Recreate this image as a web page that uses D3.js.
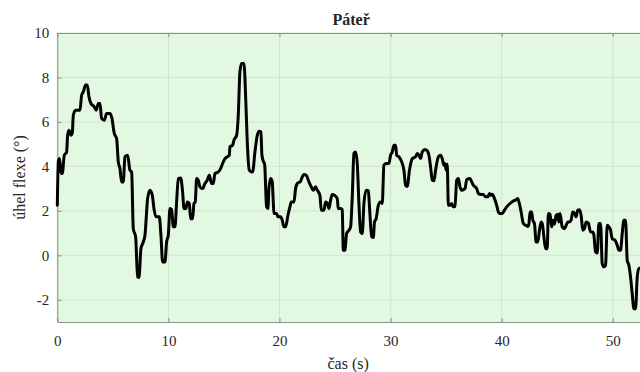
<!DOCTYPE html>
<html>
<head>
<meta charset="utf-8">
<script src="https://cdn.jsdelivr.net/npm/d3@7"></script>
<style>
  body { margin: 0; background: #fff; overflow: hidden; }
  svg { display: block; }
</style>
</head>
<body>
<div id="chart"></div>
<script>
const times = [0.0, 0.1, 0.2, 0.35, 0.45, 0.63, 0.84, 0.93, 1.05, 1.23, 1.35, 1.44, 1.65, 2.04, 2.19, 2.34, 2.55, 2.7, 2.85, 3.03,
  3.33, 3.51, 3.69, 3.84, 3.99, 4.23, 4.44, 4.74, 4.9, 5.13, 5.34, 5.49, 5.64, 5.79, 5.94, 6.09, 6.33, 6.54, 6.69, 6.84,
  7.05, 7.23, 7.35, 7.53, 7.74, 7.89, 8.13, 8.34, 8.55, 8.7, 8.88, 9.18, 9.33, 9.48, 9.69, 9.84, 9.99, 10.14, 10.29, 10.44,
  10.59, 10.74, 10.89, 11.1, 11.28, 11.4, 11.58, 11.7, 11.88, 12.0, 12.18, 12.3, 12.42, 12.54, 12.69, 12.84, 13.08, 13.29, 13.5, 13.68,
  13.89, 14.04, 14.19, 14.49, 14.7, 14.88, 15.09, 15.3, 15.48, 15.54, 15.78, 15.9, 16.14, 16.29, 16.44, 16.59, 16.8, 16.98, 17.1, 17.28,
  17.49, 17.58, 17.79, 18.0, 18.18, 18.33, 18.42, 18.57, 18.66, 18.84, 18.96, 19.05, 19.2, 19.35, 19.44, 19.5, 19.74, 19.86, 20.1, 20.25,
  20.4, 20.55, 20.76, 20.94, 21.06, 21.3, 21.45, 21.6, 21.9, 22.05, 22.2, 22.41, 22.65, 22.86, 23.04, 23.25, 23.4, 23.64, 23.76, 24.0,
  24.15, 24.3, 24.45, 24.6, 24.75, 24.96, 25.2, 25.29, 25.5, 25.65, 25.74, 25.89, 26.04, 26.25, 26.4, 26.55, 26.7, 26.85, 27.0, 27.15,
  27.3, 27.45, 27.6, 27.8, 28.0, 28.1, 28.3, 28.45, 28.55, 28.7, 28.9, 29.1, 29.25, 29.4, 29.6, 29.85, 30.0, 30.15, 30.3, 30.45,
  30.55, 30.75, 31.0, 31.2, 31.35, 31.5, 31.7, 31.95, 32.25, 32.4, 32.55, 32.7, 32.85, 33.1, 33.3, 33.45, 33.6, 33.75, 33.9, 34.05,
  34.3, 34.5, 34.65, 34.8, 34.9, 35.0, 35.1, 35.2, 35.35, 35.5, 35.65, 35.8, 35.95, 36.1, 36.25, 36.4, 36.7, 36.85, 37.15, 37.3,
  37.45, 37.75, 37.9, 38.15, 38.35, 38.55, 38.75, 38.9, 39.05, 39.15, 39.35, 39.55, 39.7, 39.85, 40.05, 40.25, 40.45, 40.75, 41.05, 41.25,
  41.45, 41.55, 41.75, 41.95, 42.15, 42.35, 42.45, 42.55, 42.7, 42.8, 42.95, 43.1, 43.25, 43.4, 43.55, 43.65, 43.8, 43.95, 44.1, 44.2,
  44.35, 44.5, 44.6, 44.75, 44.9, 45.05, 45.15, 45.25, 45.45, 45.65, 45.8, 45.95, 46.1, 46.25, 46.4, 46.55, 46.7, 46.85, 47.0, 47.15,
  47.3, 47.45, 47.6, 47.8, 48.0, 48.2, 48.3, 48.45, 48.6, 48.75, 48.9, 49.05, 49.2, 49.35, 49.5, 49.65, 49.8, 49.95, 50.2, 50.4,
  50.55, 50.7, 50.85, 51.0, 51.15, 51.3, 51.45, 51.6, 51.75, 51.9, 52.05, 52.2, 52.35, 52.6];

const angles = [2.25, 4.28, 4.35, 3.68, 3.68, 4.5, 4.65, 5.4, 5.63, 5.4, 5.5, 6.3, 6.53, 6.53, 7.2, 7.35, 7.66, 7.66, 7.13, 6.83,
  6.68, 6.53, 6.83, 6.83, 6.16, 6.08, 6.38, 6.38, 6.2, 5.48, 5.25, 4.2, 3.9, 3.3, 3.3, 4.43, 4.5, 3.83, 3.75, 1.2,
  0.83, -0.98, -1.0, 0.3, 0.6, 0.9, 2.55, 2.93, 2.7, 2.1, 1.73, 1.73, 0.9, -0.3, -0.3, 0.6, 0.9, 2.1, 2.05, 1.28,
  1.28, 2.4, 3.45, 3.48, 2.85, 2.1, 2.1, 2.4, 2.33, 1.65, 1.65, 2.33, 2.4, 3.45, 3.38, 3.08, 3.0, 3.23, 3.38, 3.6,
  3.23, 3.23, 3.68, 3.75, 3.9, 4.13, 4.35, 4.43, 4.5, 4.88, 4.95, 5.18, 5.4, 6.3, 8.26, 8.63, 8.63, 6.76, 5.1, 3.83,
  3.75, 3.75, 4.65, 5.4, 5.58, 5.55, 4.5, 4.2, 4.1, 2.18, 2.1, 3.0, 3.45, 3.3, 2.4, 1.88, 1.88, 1.73, 1.73, 1.58,
  1.28, 1.28, 1.8, 2.18, 2.4, 2.4, 3.0, 3.23, 3.33, 3.53, 3.63, 3.6, 3.3, 3.08, 2.93, 3.08, 2.93, 2.7, 2.03, 2.03,
  2.4, 2.35, 2.1, 2.48, 2.73, 2.7, 2.55, 2.1, 2.1, 2.05, 0.23, 0.23, 0.98, 1.13, 1.28, 2.63, 4.58, 4.65, 4.13, 2.33,
  1.05, 0.98, 2.33, 2.93, 2.9, 2.18, 0.83, 0.8, 1.5, 1.65, 2.25, 2.4, 2.33, 4.05, 4.13, 4.13, 4.5, 4.65, 4.95, 4.95,
  4.5, 4.43, 4.2, 3.83, 3.15, 3.1, 3.83, 4.35, 4.43, 4.58, 4.5, 4.35, 4.65, 4.76, 4.7, 4.5, 3.98, 3.38, 3.35, 3.83,
  4.43, 4.5, 4.35, 4.05, 4.13, 3.83, 4.1, 2.25, 2.25, 2.33, 2.18, 2.2, 3.38, 3.45, 3.08, 2.93, 3.0, 3.41, 3.45, 3.3,
  3.15, 3.0, 2.78, 2.73, 2.73, 2.63, 2.63, 2.78, 2.7, 2.75, 2.55, 2.25, 1.95, 1.88, 1.88, 2.03, 2.18, 2.33, 2.45, 2.48,
  2.55, 2.4, 1.95, 1.43, 1.35, 1.3, 1.4, 1.95, 1.95, 1.58, 1.43, 0.6, 0.6, 1.13, 1.5, 1.43, 0.83, 0.3, 0.3, 1.88,
  1.85, 1.28, 1.58, 1.4, 1.8, 1.85, 1.5, 1.88, 1.28, 1.2, 1.35, 1.5, 1.5, 1.58, 1.95, 1.9, 1.73, 2.03, 2.05, 1.8,
  1.13, 1.2, 1.5, 1.45, 1.05, 1.05, 0.9, 0.15, 0.1, 1.43, 1.43, -0.37, -0.52, -0.45, 1.35, 1.28, 1.13, 0.75, 0.68, 0.45,
  0.23, 0.23, 0.98, 1.58, 1.58, -0.23, -0.45, -0.98, -1.73, -2.4, -2.4, -0.98, -0.6, -0.55];

const xTicks = [0, 10, 20, 30, 40, 50];
const yTicks = [-2, 0, 2, 4, 6, 8, 10];

const width = 640, height = 372;
const plotLeft = 57.3, plotRight = 645, plotTop = 33, plotBottom = 322;
const textColor = "#262626";
const font = "'Liberation Serif', 'Times New Roman', serif";

const data = times.map((t, i) => ({t: t, v: angles[i]}));

const svg = d3.select("#chart")
  .append("svg")
    .attr("width", width)
    .attr("height", height)
    .style("font-family", font);

const x = d3.scaleLinear().domain([0, 52.9]).range([plotLeft, plotRight]);
const y = d3.scaleLinear().domain([-3, 10]).range([plotBottom, plotTop]);

// plot background
svg.append("rect")
  .attr("x", plotLeft)
  .attr("y", plotTop)
  .attr("width", plotRight - plotLeft)
  .attr("height", plotBottom - plotTop)
  .style("fill", "#e3f8e0");

// grid
svg.append("g")
  .selectAll("line")
  .data(xTicks)
  .join("line")
    .attr("x1", d => x(d)).attr("x2", d => x(d))
    .attr("y1", plotTop).attr("y2", plotBottom)
    .style("stroke", "#cfe5cc")
    .style("stroke-width", 1);

svg.append("g")
  .selectAll("line")
  .data(yTicks)
  .join("line")
    .attr("x1", plotLeft).attr("x2", plotRight)
    .attr("y1", d => y(d)).attr("y2", d => y(d))
    .style("stroke", "#cfe5cc")
    .style("stroke-width", 1);

// axes, ticks pointing inward, plain hyphen for negatives
svg.append("g")
  .attr("transform", `translate(0,${plotBottom})`)
  .call(d3.axisBottom(x).tickValues(xTicks).tickFormat(d => String(d))
    .tickSizeInner(-4).tickSizeOuter(0).tickPadding(13));

svg.append("g")
  .attr("transform", `translate(${plotLeft},0)`)
  .call(d3.axisLeft(y).tickValues(yTicks).tickFormat(d => String(d))
    .tickSizeInner(-4).tickSizeOuter(0).tickPadding(8));

svg.append("g")
  .attr("transform", `translate(0,${plotTop})`)
  .call(d3.axisTop(x).tickValues(xTicks).tickSizeInner(-4).tickSizeOuter(0).tickFormat(""));

svg.selectAll(".domain, .tick line")
  .attr("stroke", "#8a8f8a")
  .attr("stroke-width", 1);

svg.selectAll(".tick text")
  .style("font-family", font)
  .style("font-size", "15px")
  .style("fill", textColor);

// the line
svg.append("path")
  .datum(data)
  .attr("d", d3.line()
    .x(d => x(d.t))
    .y(d => y(d.v))
    .curve(d3.curveMonotoneX))
  .style("fill", "none")
  .style("stroke", "#000")
  .style("stroke-width", 3)
  .style("stroke-linejoin", "round")
  .style("stroke-linecap", "round");

// title
svg.append("text")
  .attr("x", (plotLeft + plotRight) / 2)
  .attr("y", 25)
  .attr("text-anchor", "middle")
  .style("font-size", "16px")
  .style("font-weight", "bold")
  .style("fill", textColor)
  .text("Páteř");

// axis labels
svg.append("text")
  .attr("x", (plotLeft + plotRight) / 2 - 3)
  .attr("y", 369)
  .attr("text-anchor", "middle")
  .style("font-size", "16px")
  .style("fill", textColor)
  .text("čas (s)");

svg.append("text")
  .attr("transform", "rotate(-90)")
  .attr("x", -(plotTop + plotBottom) / 2)
  .attr("y", 25)
  .attr("text-anchor", "middle")
  .style("font-size", "16px")
  .style("fill", textColor)
  .text("úhel flexe (°)");
</script>
</body>
</html>
